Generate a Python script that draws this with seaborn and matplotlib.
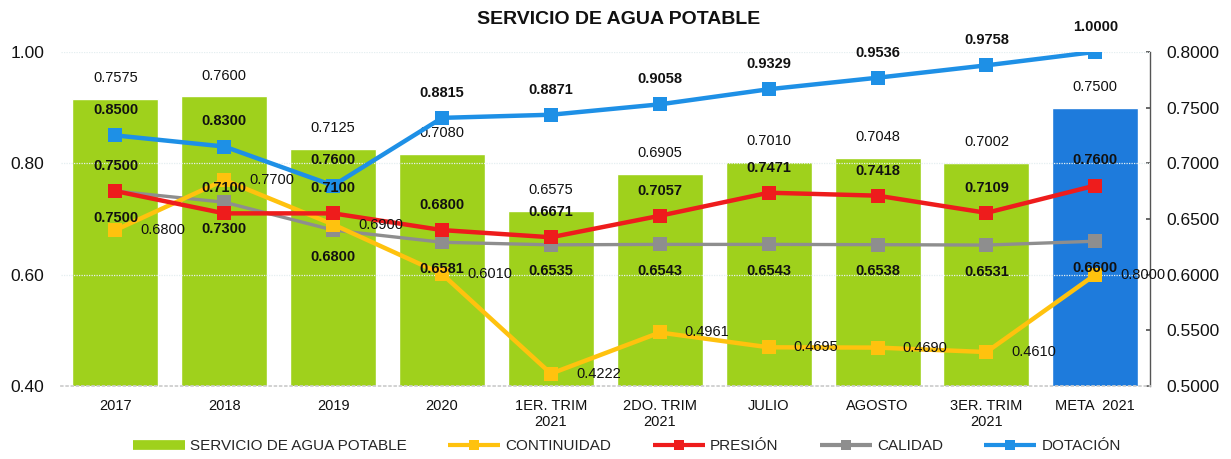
import matplotlib.pyplot as plt
import numpy as np
import pandas as pd
import seaborn as sns
from matplotlib.lines import Line2D


categories = [
    "2017", "2018", "2019", "2020", "1ER. TRIM\n2021", "2DO. TRIM\n2021",
    "JULIO", "AGOSTO", "3ER. TRIM\n2021", "META  2021",
]
servicio = [0.7575, 0.7600, 0.7125, 0.7080, 0.6575, 0.6905, 0.7010, 0.7048, 0.7002, 0.7500]
continuidad = [0.6800, 0.7700, 0.6900, 0.6010, 0.4222, 0.4961, 0.4695, 0.4690, 0.4610, 0.6000]
presion = [0.7500, 0.7100, 0.7100, 0.6800, 0.6671, 0.7057, 0.7471, 0.7418, 0.7109, 0.7600]
calidad = [0.7500, 0.7300, 0.6800, 0.6581, 0.6535, 0.6543, 0.6543, 0.6538, 0.6531, 0.6600]
dotacion = [0.8500, 0.8300, 0.7600, 0.8815, 0.8871, 0.9058, 0.9329, 0.9536, 0.9758, 1.0000]

# the printed label of the last CONTINUIDAD point differs from its plotted value
continuidad_labels = [f"{v:.4f}" for v in continuidad[:-1]] + ["0.8000"]

GREEN = "#9FD11C"
META_BLUE = "#1E7BDC"
COLORS = {
    "CONTINUIDAD": "#FFC20E",
    "PRESIÓN": "#EE1C1C",
    "CALIDAD": "#8E8E8E",
    "DOTACIÓN": "#1E90E6",
}


def main():
    sns.set_theme(style="white")
    plt.rcParams["font.family"] = ["Liberation Sans", "DejaVu Sans"]

    fig, ax = plt.subplots(figsize=(12.31, 4.59), dpi=100)
    fig.subplots_adjust(left=0.0496, right=0.934, top=0.887, bottom=0.159)

    df = pd.DataFrame({"categoria": categories, "servicio": servicio})
    bar_colors = [GREEN] * (len(categories) - 1) + [META_BLUE]
    sns.barplot(
        data=df, x="categoria", y="servicio", hue="categoria",
        palette=bar_colors, legend=False, width=0.79, saturation=1, ax=ax,
    )
    ax.set_ylim(0.5, 0.8)
    ax.set_yticks(np.arange(0.5, 0.801, 0.05))
    ax.set_yticklabels([f"{t:.4f}" for t in np.arange(0.5, 0.801, 0.05)])
    ax.set_xlabel("")
    ax.set_ylabel("")

    ax2 = ax.twinx()
    ax.yaxis.tick_right()
    ax2.yaxis.tick_left()
    ax2.set_ylim(0.4, 1.0)
    ax2.set_yticks([0.4, 0.6, 0.8, 1.0])
    ax2.set_yticklabels(["0.40", "0.60", "0.80", "1.00"])
    ax2.grid(axis="y", color="#e4eef0", linewidth=0.9, linestyle=(0, (1, 1)))

    pos = np.arange(len(categories))
    series = [
        ("DOTACIÓN", dotacion),
        ("CALIDAD", calidad),
        ("CONTINUIDAD", continuidad),
        ("PRESIÓN", presion),
    ]
    widths = {"CALIDAD": 2.4}
    for name, values in series:
        sns.lineplot(
            x=pos, y=values, ax=ax2, color=COLORS[name],
            linewidth=widths.get(name, 3.2), marker="s", markersize=10,
            markeredgewidth=0,
        )

    # data labels
    label_kw = dict(textcoords="offset points", fontsize=10.5, color="#111111")
    for i, v in enumerate(servicio):
        ax.annotate(f"{v:.4f}", (i, v), xytext=(0, 10), ha="center", va="bottom", **label_kw)
    for i, v in enumerate(dotacion):
        ax2.annotate(f"{v:.4f}", (i, v), xytext=(0, 13), ha="center", va="bottom",
                     fontweight="bold", **label_kw)
    for i, v in enumerate(presion):
        ax2.annotate(f"{v:.4f}", (i, v), xytext=(0, 13), ha="center", va="bottom",
                     fontweight="bold", **label_kw)
    for i, v in enumerate(calidad):
        ax2.annotate(f"{v:.4f}", (i, v), xytext=(0, -14), ha="center", va="top",
                     fontweight="bold", **label_kw)
    for i, v in enumerate(continuidad):
        ax2.annotate(continuidad_labels[i], (i, v), xytext=(18, 0), ha="left", va="center",
                     **label_kw)

    ax.set_xlim(-0.5, len(categories) - 0.5)
    ax.set_xticks(pos)
    ax.set_xticklabels(categories)
    ax.tick_params(axis="x", labelsize=10.5, length=0, pad=9, colors="#111111")
    ax.tick_params(axis="y", labelsize=12.5, direction="in", length=3, pad=12,
                   colors="#111111", color="#555555")
    ax2.tick_params(axis="y", labelsize=12.5, length=0, pad=12, colors="#111111")

    for side in ["top", "left"]:
        ax.spines[side].set_visible(False)
    ax.spines["right"].set_color("#555555")
    ax.spines["right"].set_linewidth(1.0)
    ax.spines["bottom"].set_color("#cccccc")
    ax.spines["bottom"].set_linestyle((0, (1, 2)))
    for side in ["top", "left", "right", "bottom"]:
        ax2.spines[side].set_visible(False)

    fig.text(619 / 1231, 1 - 20 / 459, "SERVICIO DE AGUA POTABLE", ha="center",
             va="center", fontsize=14, fontweight="bold", color="#111111")

    handles = [Line2D([0], [0], color=GREEN, linewidth=7, solid_capstyle="butt")]
    labels = ["SERVICIO DE AGUA POTABLE"]
    for name in ["CONTINUIDAD", "PRESIÓN", "CALIDAD", "DOTACIÓN"]:
        handles.append(Line2D([0], [0], color=COLORS[name], linewidth=3,
                              marker="s", markersize=7, markeredgewidth=0,
                              solid_capstyle="butt"))
        labels.append(name)
    fig.legend(handles, labels, loc="center", bbox_to_anchor=(627 / 1231, 1 - 446 / 459),
               ncol=5, frameon=False, fontsize=11, handlelength=3.4,
               handletextpad=0.35, columnspacing=2.7)

    fig.savefig("out.png", dpi=100)
    plt.close(fig)


if __name__ == "__main__":
    main()
